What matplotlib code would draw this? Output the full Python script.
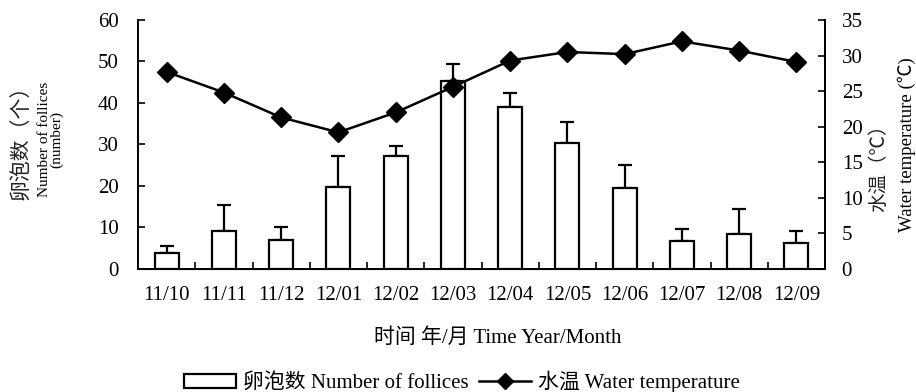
import numpy as np
import matplotlib.pyplot as plt
from matplotlib.lines import Line2D
from matplotlib.patches import Patch

months = ['11/10', '11/11', '11/12', '12/01', '12/02', '12/03',
          '12/04', '12/05', '12/06', '12/07', '12/08', '12/09']
follicles = [3.8, 9.2, 7.0, 19.7, 27.2, 45.3, 39.0, 30.3, 19.4, 6.7, 8.4, 6.3]
follicles_err = [1.7, 6.3, 3.2, 7.4, 2.4, 4.1, 3.5, 5.0, 5.7, 2.8, 6.1, 2.8]
water_temp = [27.7, 24.8, 21.3, 19.2, 22.0, 25.6, 29.3, 30.5, 30.2, 32.0, 30.7, 29.1]

plt.rcParams['font.family'] = ['Liberation Serif', 'Noto Sans CJK SC', 'DejaVu Sans']
plt.rcParams['font.size'] = 15

fig = plt.figure(figsize=(9.16, 3.92), dpi=100)
ax = fig.add_axes([0.1507, 0.314, 0.75, 0.635])
x = np.arange(len(months))

ax.bar(x, follicles, width=0.42, facecolor='white', edgecolor='black', linewidth=1.6, zorder=2)
ax.errorbar(x, follicles, yerr=[np.zeros(len(x)), follicles_err], fmt='none',
            ecolor='black', elinewidth=1.6, capsize=5, capthick=1.6, zorder=1)
ax.set_xlim(-0.5, 11.5)
ax.set_ylim(0, 60)
ax.set_yticks(range(0, 61, 10))
ax.set_xticks(x)
ax.set_xticklabels(months)
ax.tick_params(axis='x', length=0, pad=12)
ax.set_xticks(np.arange(0.5, 11, 1), minor=True)
ax.tick_params(axis='x', which='minor', direction='in', length=5, width=1.2)
ax.tick_params(axis='y', direction='in', length=5, width=1.2, pad=14)
for s in ['left', 'bottom', 'right']:
    ax.spines[s].set_linewidth(1.4)
ax.spines['top'].set_visible(False)

ax2 = ax.twinx()
ax2.plot(x, water_temp, color='black', linewidth=1.8, marker='D', markersize=10, zorder=3)
ax2.set_ylim(0, 35)
ax2.set_yticks(range(0, 36, 5))
ax2.tick_params(axis='y', direction='in', length=5, width=1.2, pad=12)
ax2.spines['top'].set_visible(False)
ax2.spines['right'].set_linewidth(1.4)
ax2.spines['left'].set_visible(False)

fig.text(0.023, 0.65, '卵泡数（个）', rotation=90, ha='center', va='center', fontsize=15, color='#222222')
fig.text(0.055, 0.645, 'Number of follices\n(number)', rotation=90, ha='center', va='center',
         fontsize=11, linespacing=0.9)
fig.text(0.96, 0.584, '水温（℃）', rotation=90, ha='center', va='center', fontsize=14, color='#222222')
fig.text(0.99, 0.63, 'Water temperature (℃)', rotation=90, ha='center', va='center', fontsize=13.5)

fig.text(0.543, 0.138, '时间 年/月 Time Year/Month', ha='center', va='center', fontsize=15)

handles = [Patch(facecolor='white', edgecolor='black', linewidth=1.6),
           Line2D([], [], color='black', linewidth=1.8, marker='D', markersize=8)]
fig.legend(handles, ['卵泡数 Number of follices', '水温 Water temperature'],
           loc='center', bbox_to_anchor=(0.504, 0.025), ncol=2, frameon=False,
           fontsize=15, handlelength=2.5, handleheight=0.6, handletextpad=0.33,
           columnspacing=0.5, borderpad=0)

fig.savefig('out.png', dpi=100)
